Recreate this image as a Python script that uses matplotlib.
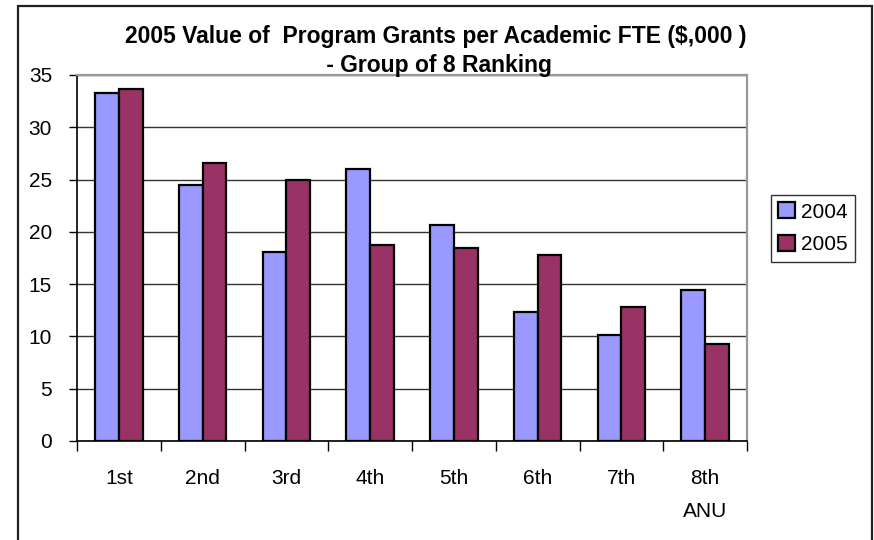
import matplotlib
matplotlib.use("Agg")
import matplotlib.pyplot as plt
import numpy as np
from matplotlib.patches import Rectangle

categories = ["1st", "2nd", "3rd", "4th", "5th", "6th", "7th", "8th\nANU"]
series_names = ["2004", "2005"]
values_2004 = [33.3, 24.5, 18.1, 26.0, 20.7, 12.3, 10.1, 14.4]
values_2005 = [33.7, 26.6, 25.0, 18.7, 18.5, 17.8, 12.8, 9.3]
yticks = [0, 5, 10, 15, 20, 25, 30, 35]
title = "2005 Value of  Program Grants per Academic FTE ($,000 )\n - Group of 8 Ranking"

plt.rcParams['font.family'] = ['Liberation Sans', 'DejaVu Sans']

fig = plt.figure(figsize=(8.74, 5.40), dpi=100)
W, H = 874, 540
ax = fig.add_axes([77 / W, 1 - 441 / H, (747 - 77) / W, (441 - 75) / H])

# outer chart border
fig.patches.append(Rectangle((18 / W, -0.05), (872 - 18) / W, 1 - 6 / H + 0.05,
                             transform=fig.transFigure, fill=False,
                             edgecolor='#222222', linewidth=1.6))

x = np.arange(len(categories))
w = 0.285
b1 = ax.bar(x - w / 2, values_2004, w, color='#9999FF', edgecolor='black',
            linewidth=1.6, label=series_names[0], zorder=3)
b2 = ax.bar(x + w / 2, values_2005, w, color='#993366', edgecolor='black',
            linewidth=1.6, label=series_names[1], zorder=3)

ax.set_xlim(-0.5, len(categories) - 0.5)
ax.set_ylim(0, 35)
ax.set_yticks(yticks)
ax.set_yticklabels([str(v) for v in yticks], fontsize=15)
ax.yaxis.grid(True, color='#333333', linewidth=1.0, zorder=0)
ax.set_axisbelow(True)

ax.set_xticks(x)
ax.set_xticklabels(categories, fontsize=15, linespacing=1.95)
ax.set_xticks(np.arange(len(categories) + 1) - 0.5, minor=True)
ax.tick_params(axis='x', which='major', length=0, pad=20)
ax.tick_params(axis='x', which='minor', length=7, width=1.0, color='black',
               direction='out')
ax.tick_params(axis='y', length=6, width=1.0, color='black', direction='out',
               pad=12)

for s in ['left', 'bottom']:
    ax.spines[s].set_color('black')
    ax.spines[s].set_linewidth(1.2)
for s in ['top', 'right']:
    ax.spines[s].set_color('#999999')
    ax.spines[s].set_linewidth(1.6)

fig.text(436 / W, 1 - 51 / H, title, ha='center', va='center',
         fontsize=16.5, fontweight='bold', linespacing=1.3)

leg = fig.legend(handles=[b1, b2], labels=series_names,
                 loc='upper left', bbox_to_anchor=(771 / W, 1 - 195 / H),
                 fontsize=15, frameon=True, fancybox=False, edgecolor='black',
                 handlelength=0.8, handleheight=0.8, handletextpad=0.3,
                 borderpad=0.35, labelspacing=0.65, borderaxespad=0)
leg.get_frame().set_linewidth(1.0)

fig.savefig("out.png", dpi=100, facecolor='white')
